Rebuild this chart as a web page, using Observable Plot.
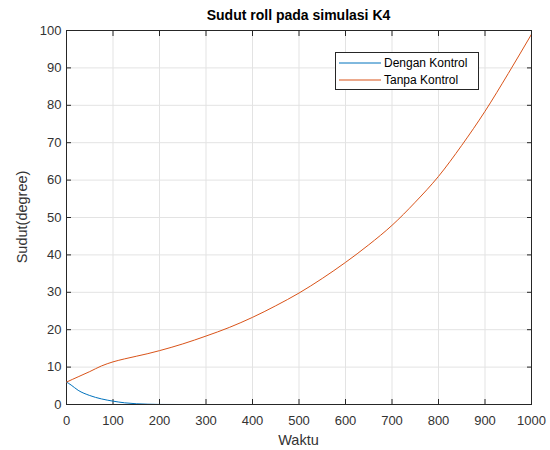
<!DOCTYPE html>
<html>
<head>
<meta charset="utf-8">
<script src="https://cdn.jsdelivr.net/npm/d3@7"></script>
<script src="https://cdn.jsdelivr.net/npm/@observablehq/plot@0.6"></script>
<style>
  html, body { margin: 0; padding: 0; background: #fff; }
  svg text { font-family: "Liberation Sans", Arial, Helvetica, sans-serif; }
</style>
</head>
<body>
<div id="chart"></div>
<script>
// Roll angle, controlled response
const waktuDengan = [0, 10, 25, 50, 75, 100, 125, 150, 175, 200, 250, 270, 290, 350, 500, 700, 1000];
const sudutDengan = [6.0, 5.2, 3.8, 2.4, 1.5, 0.9, 0.45, 0.2, 0.08, 0.02, 0, -0.1, 0, 0, 0, 0, 0];

// Roll angle, uncontrolled response
const waktuTanpa = [0, 25, 50, 75, 100, 125, 150, 175, 200, 250, 300, 350, 400, 450, 500, 550, 600, 650, 700, 750, 800, 850, 900, 950, 1000];
const sudutTanpa = [6.0, 7.4, 8.8, 10.3, 11.4, 12.2, 12.9, 13.6, 14.4, 16.2, 18.3, 20.6, 23.3, 26.4, 29.8, 33.7, 38.0, 42.7, 47.9, 54.1, 61.0, 69.3, 78.4, 88.5, 99.0];

const xTicks = [0, 100, 200, 300, 400, 500, 600, 700, 800, 900, 1000];
const yTicks = [0, 10, 20, 30, 40, 50, 60, 70, 80, 90, 100];

const seriesNames = ["Dengan Kontrol", "Tanpa Kontrol"];
const seriesColors = ["#0072BD", "#D95319"];

const dengan = waktuDengan.map((t, i) => ({t, v: sudutDengan[i]}));
const tanpa = waktuTanpa.map((t, i) => ({t, v: sudutTanpa[i]}));

const axisColor = "#262626";
const labelColor = "#333333";
const gridColor = "#e3e3e3";

const plot = Plot.plot({
  width: 550,
  height: 450,
  marginLeft: 66,
  marginRight: 19,
  marginTop: 30,
  marginBottom: 46,
  style: {fontSize: "13px", color: axisColor, background: "#fff"},
  x: {domain: [0, 1000]},
  y: {domain: [0, 100]},
  marks: [
    Plot.gridX(xTicks, {stroke: gridColor, strokeOpacity: 1}),
    Plot.gridY(yTicks, {stroke: gridColor, strokeOpacity: 1}),
    Plot.axisX(xTicks, {anchor: "bottom", tickSize: -5, tickPadding: 16, tickFormat: d3.format("d"), label: null, stroke: axisColor, fill: labelColor}),
    Plot.axisX(xTicks, {anchor: "top", tickSize: -5, tickFormat: () => "", label: null, stroke: axisColor}),
    Plot.axisY(yTicks, {anchor: "left", tickSize: -5, tickPadding: 10, tickFormat: d3.format("d"), label: null, stroke: axisColor, fill: labelColor}),
    Plot.axisY(yTicks, {anchor: "right", tickSize: -5, tickFormat: () => "", label: null, stroke: axisColor}),
    Plot.frame({stroke: axisColor, strokeWidth: 1}),
    Plot.line(dengan, {x: "t", y: "v", stroke: seriesColors[0], strokeWidth: 1, curve: "monotone-x", clip: true}),
    Plot.line(tanpa, {x: "t", y: "v", stroke: seriesColors[1], strokeWidth: 1, curve: "monotone-x", clip: true})
  ]
});

const svg = d3.select(plot);

// Title
svg.append("text")
  .attr("x", 298.5).attr("y", 20)
  .attr("text-anchor", "middle")
  .attr("font-size", 14).attr("font-weight", "bold")
  .attr("fill", "#000")
  .text("Sudut roll pada simulasi K4");

// Axis labels
svg.append("text")
  .attr("x", 298.5).attr("y", 445)
  .attr("text-anchor", "middle")
  .attr("font-size", 14.5)
  .attr("fill", labelColor)
  .text("Waktu");

svg.append("text")
  .attr("transform", "translate(27,217) rotate(-90)")
  .attr("text-anchor", "middle")
  .attr("font-size", 14.5)
  .attr("fill", labelColor)
  .text("Sudut(degree)");

// Legend
const lg = svg.append("g").attr("transform", "translate(335,52)");
lg.append("rect")
  .attr("x", 0.5).attr("y", 0.5).attr("width", 143).attr("height", 37)
  .attr("fill", "#fff").attr("stroke", axisColor).attr("stroke-width", 1);
seriesNames.forEach((name, i) => {
  const cy = 11 + i * 17;
  lg.append("line")
    .attr("x1", 4).attr("x2", 46).attr("y1", cy).attr("y2", cy)
    .attr("stroke", seriesColors[i]).attr("stroke-width", 1);
  lg.append("text")
    .attr("x", 49).attr("y", cy).attr("dy", "0.35em")
    .attr("text-anchor", "start")
    .attr("font-size", 12).attr("fill", "#000")
    .text(name);
});

document.getElementById("chart").appendChild(plot);
</script>
</body>
</html>
